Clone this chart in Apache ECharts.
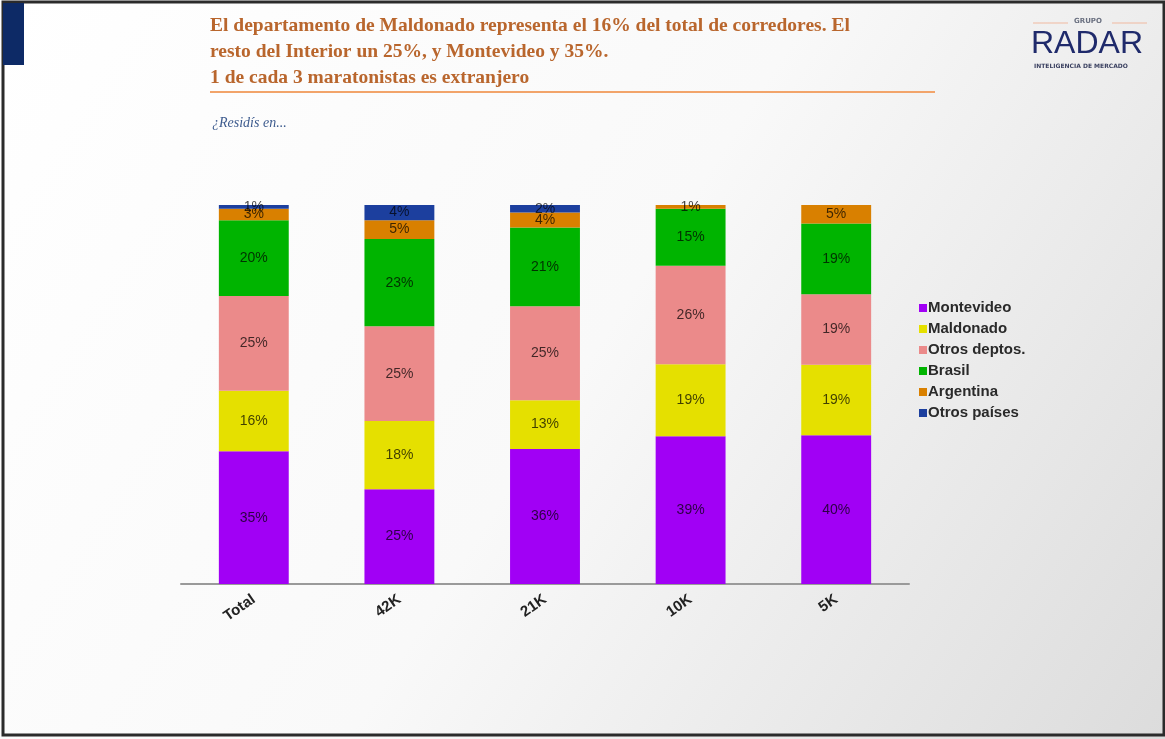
<!DOCTYPE html>
<html>
<head>
<meta charset="utf-8">
<script src="https://cdn.jsdelivr.net/npm/echarts@6/dist/echarts.min.js"></script>
<style>
  html, body { margin: 0; padding: 0; }
  #chart { width: 1165px; height: 739px; }
</style>
</head>
<body>
<div id="chart"></div>
<script>
// categorias y porcentajes
const categories = ['Total', '42K', '21K', '10K', '5K'];
const montevideo = [35, 25, 36, 39, 40];
const maldonado = [16, 18, 13, 19, 19];
const otrosDeptos = [25, 25, 25, 26, 19];
const brasil = [20, 23, 21, 15, 19];
const argentina = [3, 5, 4, 1, 5];
const otrosPaises = [1, 4, 2, 0, 0];

const seriesNames = ['Montevideo', 'Maldonado', 'Otros deptos.', 'Brasil', 'Argentina', 'Otros países'];
const seriesData = [montevideo, maldonado, otrosDeptos, brasil, argentina, otrosPaises];
const seriesColors = ['#a100f5', '#e5e000', '#eb8a8a', '#00b400', '#d98000', '#1c3f9e'];

// barras 100% apiladas: cada columna se lleva a 100
const totals = categories.map((c, i) => seriesData.reduce((s, arr) => s + arr[i], 0));

const chart = echarts.init(document.getElementById('chart'));

const option = {
  animation: false,
  grid: { left: 181, right: 256, top: 205, bottom: 155 },
  legend: {
    orient: 'vertical',
    left: 914,
    top: 295,
    icon: 'rect',
    itemWidth: 8,
    itemHeight: 8,
    itemGap: 5,
    data: seriesNames,
    textStyle: {
      fontFamily: 'Liberation Sans, Arial, sans-serif',
      fontSize: 15,
      fontWeight: 'bold',
      color: '#2a2a2a',
      lineHeight: 16,
      padding: [0, 0, 0, -4],
    },
  },
  xAxis: {
    type: 'category',
    data: categories,
    axisLine: { lineStyle: { color: '#9a9a9a', width: 2 } },
    axisTick: { show: false },
    axisLabel: {
      rotate: 35,
      margin: 14,
      fontFamily: 'Liberation Sans, Arial, sans-serif',
      fontSize: 15,
      fontWeight: 'bold',
      color: '#222',
    },
  },
  yAxis: {
    type: 'value',
    min: 0,
    max: 100,
    show: false,
  },
  series: seriesNames.map((name, k) => ({
    name,
    type: 'bar',
    stack: 'total',
    barWidth: '48%',
    itemStyle: { color: seriesColors[k] },
    label: {
      show: true,
      position: 'inside',
      fontFamily: 'Liberation Sans, Arial, sans-serif',
      fontSize: 14,
      color: 'rgba(0,0,0,0.72)',
      formatter: (p) => (seriesData[k][p.dataIndex] ? `${seriesData[k][p.dataIndex]}%` : ''),
    },
    data: seriesData[k].map((v, i) => (v / totals[i]) * 100),
  })),
  graphic: [
    {
      type: 'rect',
      z: -10,
      silent: true,
      shape: { x: 0, y: 0, width: 1165, height: 739 },
      style: {
        fill: new echarts.graphic.LinearGradient(0, 0, 1, 1, [
          { offset: 0, color: '#ffffff' },
          { offset: 0.5, color: '#f9f9f9' },
          { offset: 1, color: '#dcdcdc' },
        ]),
      },
    },
    {
      type: 'rect',
      z: 10,
      silent: true,
      shape: { x: 3, y: 2, width: 1161, height: 733 },
      style: { fill: 'none', stroke: '#2b2b2b', lineWidth: 3 },
    },
    {
      type: 'rect',
      z: 10,
      silent: true,
      shape: { x: 3, y: 3, width: 21, height: 62 },
      style: { fill: '#0d2a66' },
    },
    {
      type: 'text',
      left: 210,
      top: 13,
      style: {
        text: 'El departamento de Maldonado representa el 16% del total de corredores. El\nresto del Interior un 25%, y Montevideo y 35%.\n1 de cada 3 maratonistas es extranjero',
        fontFamily: 'Liberation Serif, Times New Roman, serif',
        fontWeight: 'bold',
        fontSize: 19.5,
        lineHeight: 26,
        fill: '#b9662d',
      },
    },
    {
      type: 'line',
      silent: true,
      shape: { x1: 210, y1: 92, x2: 935, y2: 92 },
      style: { stroke: '#f2a46a', lineWidth: 2 },
    },
    {
      type: 'text',
      left: 212,
      top: 116,
      style: {
        text: '¿Residís en...',
        fontFamily: 'Liberation Serif, Times New Roman, serif',
        fontStyle: 'italic',
        fontSize: 14,
        fill: '#3d5b8e',
      },
    },
    // logo
    {
      type: 'line',
      silent: true,
      shape: { x1: 1033, y1: 23, x2: 1068, y2: 23 },
      style: { stroke: '#f0b9a0', lineWidth: 1 },
    },
    {
      type: 'line',
      silent: true,
      shape: { x1: 1112, y1: 23, x2: 1147, y2: 23 },
      style: { stroke: '#f0b9a0', lineWidth: 1 },
    },
    {
      type: 'text',
      left: 1074,
      top: 18,
      style: {
        text: 'GRUPO',
        fontFamily: 'DejaVu Sans, sans-serif',
        fontWeight: 'bold',
        fontSize: 7,
        fill: '#6a7080',
      },
    },
    {
      type: 'text',
      left: 1031,
      top: 28,
      style: {
        text: 'RADAR',
        fontFamily: 'Liberation Sans, Arial, sans-serif',
        fontSize: 32,
        fill: '#1f2a6b',
      },
    },
    {
      type: 'text',
      left: 1034,
      top: 63,
      style: {
        text: 'INTELIGENCIA DE MERCADO',
        fontFamily: 'DejaVu Sans, sans-serif',
        fontWeight: 'bold',
        fontSize: 6,
        fill: '#3a4060',
      },
    },
  ],
};

chart.setOption(option);
</script>
</body>
</html>
